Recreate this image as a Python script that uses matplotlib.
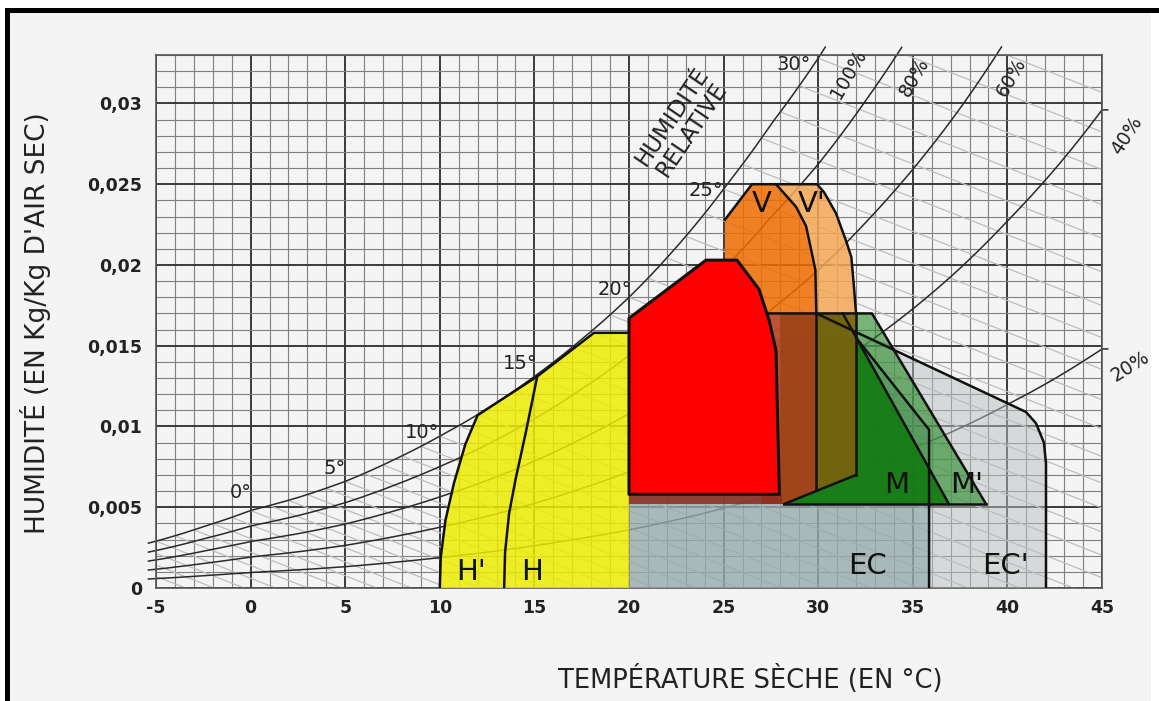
import numpy as np
import matplotlib
matplotlib.use('Agg')
import matplotlib.pyplot as plt
from matplotlib.patches import Polygon, Rectangle

plt.rcParams['axes.unicode_minus'] = False

# ---------------- data ----------------
# saturation (100 % RH) humidity curve, T in degC, w in kg/kg
sat_T = [-5, -2.5, 0, 2.5, 5, 7.5, 10, 12.5, 15, 17.5, 20, 22.5, 25, 27.5,
         30, 32.5, 35, 37.5, 40, 42.5, 45]
sat_w = [0.0029, 0.0038, 0.0048, 0.0056, 0.0066, 0.0079, 0.0094, 0.0111,
         0.0131, 0.0154, 0.0180, 0.0211, 0.0247, 0.0287, 0.0328, 0.0377,
         0.0432, 0.0495, 0.0568, 0.0648, 0.0740]
rh_levels = [1.0, 0.8, 0.6, 0.4, 0.2]
rh_labels = ['100%', '80%', '60%', '40%', '20%']
wb_temps = list(range(-14, 33))          # wet-bulb guide lines (degC)
wb_slope = 0.00046                       # kg/kg per degC along wet-bulb lines

x_ticks = [-5, 0, 5, 10, 15, 20, 25, 30, 35, 40, 45]
y_ticks = [0, 0.005, 0.01, 0.015, 0.02, 0.025, 0.03]
y_ticklabels = ['0', '0,005', '0,01', '0,015', '0,02', '0,025', '0,03']

# zones (T degC, w kg/kg)
zone_yellow = [(10.0, 0), (10.05, 0.0019), (10.3, 0.0042), (10.75, 0.0065),
               (11.35, 0.0089), (12.0, 0.0107), (15.15, 0.0131),
               (18.15, 0.0158), (20.0, 0.0158), (20.0, 0)]
line_h = [(13.4, 0), (13.45, 0.0022), (13.66, 0.0046), (14.0, 0.0067),
          (14.54, 0.0096), (15.15, 0.0131)]
zone_red = [(20.0, 0.0058), (20.0, 0.0167), (24.07, 0.0203), (25.71, 0.0203),
            (26.87, 0.0185), (27.4, 0.0166), (27.77, 0.0147), (27.95, 0.0058)]
zone_strip = [(20.0, 0.0052), (28.1, 0.0052), (28.1, 0.0058), (20.0, 0.0058)]
curve_v = [(27.77, 0.025), (28.83, 0.0236), (29.36, 0.0224), (29.67, 0.0207),
           (29.85, 0.0197), (29.9, 0.0170)]
zone_v = [(25.07, 0.0170), (25.07, 0.0228), (26.5, 0.025)] + curve_v
curve_vp = [(29.94, 0.025), (30.31, 0.0245), (30.94, 0.0232), (31.47, 0.0215),
            (31.75, 0.0205), (31.9, 0.0185), (32.0, 0.0170)]
zone_vp = [(27.77, 0.025)] + curve_vp + curve_v[::-1]
zone_brown = [(27.0, 0.0170), (29.9, 0.0170), (29.9, 0.00604), (28.2, 0.0052),
              (27.0, 0.0052)]
zone_olive = [(29.9, 0.0170), (32.0, 0.0170), (32.0, 0.0070), (29.9, 0.00604)]
zone_mp = [(28.0, 0.0170), (32.84, 0.0170), (38.87, 0.0052), (28.0, 0.0052)]
zone_m = [(28.0, 0.0170), (31.3, 0.0170), (36.91, 0.0052), (28.0, 0.0052)]
zone_ec = [(20.0, 0), (35.86, 0), (35.86, 0.0098), (32.0, 0.0155), (20.0, 0.0155)]
edge_ecp = [(29.9, 0.0170), (40.98, 0.0109), (41.51, 0.0102), (41.93, 0.0090),
            (42.04, 0.0077), (42.04, 0)]
zone_ecp = edge_ecp + [(20.0, 0), (20.0, 0.0170)]

zone_labels = ['H\'', 'H', 'V', 'V\'', 'M', 'M\'', 'EC', 'EC\'']
zone_label_T = [11.65, 14.87, 27.03, 29.67, 34.16, 37.86, 32.63, 39.87]
zone_label_w = [0.0010, 0.0010, 0.0238, 0.0238, 0.0064, 0.0064, 0.00136, 0.00136]

deg_labels = ['0°', '5°', '10°', '15°', '20°', '25°', '30°']
deg_T = [-0.5, 4.46, 9.06, 14.24, 19.26, 24.07, 28.72]
deg_w = [0.0059, 0.0074, 0.0096, 0.0139, 0.0185, 0.0246, 0.0324]

rh_lab_T = [31.63, 35.06, 40.19, 46.3, 46.5]
rh_lab_w = [0.0318, 0.0316, 0.0316, 0.0280, 0.0137]
rh_lab_rot = [60, 60, 60, 57, 32]

# ---------------- figure ----------------
W, H = 1159, 701
fig = plt.figure(figsize=(W / 100, H / 100), dpi=100, facecolor='white')


def fr(x0, y0, x1, y1, z, **kw):
    fig.patches.append(Rectangle((x0 / W, 1 - y1 / H), (x1 - x0) / W, (y1 - y0) / H,
                                 transform=fig.transFigure, figure=fig, zorder=z, **kw))


fr(10, 13, 1151, 701, -3, facecolor='#f4f4f4', edgecolor='none')
fr(5, 8, 1159, 13, -2, facecolor='black', edgecolor='none')
fr(5, 8, 10, 701, -2, facecolor='black', edgecolor='none')

ax = fig.add_axes([156 / W, 1 - 588 / H, (1102 - 156) / W, (588 - 55) / H])
ax.set_zorder(2)
ax.set_facecolor('#f4f4f4')
ax.set_xlim(-5, 45)
ax.set_ylim(0, 0.033)
ax.set_xticks(x_ticks)
ax.set_xticks(np.arange(-5, 46, 1), minor=True)
ax.set_yticks(y_ticks)
ax.set_yticks(np.arange(0, 0.0331, 0.001), minor=True)
ax.set_yticklabels(y_ticklabels)
ax.grid(which='minor', color='#808080', lw=0.8, zorder=0)
ax.grid(which='major', color='#3a3a3a', lw=1.4, zorder=0)
ax.set_axisbelow(True)
ax.tick_params(which='both', length=0)
ax.tick_params(axis='y', pad=10)
ax.tick_params(axis='x', pad=8)
for lab in ax.get_xticklabels() + ax.get_yticklabels():
    lab.set_fontsize(12.5)
    lab.set_fontweight('bold')
    lab.set_color('#222222')
for s in ax.spines.values():
    s.set_color('#555555')
    s.set_linewidth(1.2)

# saturation curve sampled (log-linear between read points)
lT = np.array(sat_T, float)
lW = np.log(np.array(sat_w, float))


def sat(T):
    T = np.asarray(T, float)
    out = np.interp(T, lT, lW)
    lo = T < lT[0]
    out[lo] = lW[0] + (T[lo] - lT[0]) * (lW[1] - lW[0]) / (lT[1] - lT[0])
    return np.exp(out)


# wet-bulb guide lines
for tw in wb_temps:
    w0 = float(sat([tw])[0])
    ax.plot([tw, tw + w0 / wb_slope], [w0, 0], color='#bdbdbd', lw=0.9, zorder=1)

# relative humidity curves
Td = np.linspace(-5.4, 45.3, 3000)
for rh in rh_levels:
    w = rh * sat(Td)
    m = (w <= 0.0335)
    ax.plot(Td[m], w[m], color='#2a2a2a', lw=1.1, zorder=2, clip_on=False)


def poly(pts, fc, alpha, z):
    ax.add_patch(Polygon(pts, closed=True, facecolor=fc, edgecolor='none',
                         alpha=alpha, zorder=z))


def edge(pts, lw=1.8, z=8):
    x, y = zip(*pts)
    ax.plot(x, y, color='#111111', lw=lw, zorder=z, solid_joinstyle='round')


poly(zone_ecp, '#bac0c0', 0.5, 3)
poly(zone_ec, '#8ca3a3', 0.6, 3.1)
poly(zone_mp, '#258925', 0.6, 3.2)
poly(zone_m, '#0e780d', 0.85, 3.3)
poly(zone_brown, '#b83c19', 0.85, 3.4)
poly(zone_olive, '#83600d', 0.85, 3.4)
poly(zone_yellow, '#eded04', 0.85, 3.5)
poly(zone_vp, '#f5a856', 0.85, 3.6)
poly(zone_v, '#f06c00', 0.85, 3.6)
poly(zone_strip, '#8c2a1e', 0.85, 3.7)

# outlines
edge(zone_yellow[:9])
edge(line_h)
edge(zone_v[1:])
edge([(27.77, 0.025), (29.94, 0.025)] + curve_vp)
edge([(27.0, 0.0170), (32.84, 0.0170), (38.87, 0.0052)])
edge([(28.2, 0.0052), (38.87, 0.0052)])
edge([(31.3, 0.0170), (36.91, 0.0052)])
edge([(29.9, 0.0170), (29.9, 0.00604)])
edge([(32.0, 0.0170), (32.0, 0.0070)])
edge([(28.2, 0.0052), (32.0, 0.0070)])
edge(edge_ecp)
edge([(35.86, 0), (35.86, 0.0098), (32.0, 0.0155)])

# comfort zone (opaque)
ax.add_patch(Polygon(zone_red, closed=True, facecolor='#ff0000', edgecolor='#111111',
                     lw=2.2, zorder=9, joinstyle='round'))

for t, x, y in zip(zone_labels, zone_label_T, zone_label_w):
    ax.text(x, y, t, fontsize=21, ha='center', va='center', color='#111111', zorder=12)
for t, x, y in zip(deg_labels, deg_T, deg_w):
    ax.text(x, y, t, fontsize=14, ha='center', va='center', color='#222222', zorder=12)
for t, x, y, r in zip(rh_labels, rh_lab_T, rh_lab_w, rh_lab_rot):
    ax.text(x, y, t, fontsize=13.5, ha='center', va='center', color='#222222',
            rotation=r, rotation_mode='anchor', zorder=12, clip_on=False)
ax.text(22.8, 0.0288, 'HUMIDITÉ\nRELATIVE', fontsize=16.5, ha='center', va='center',
        rotation=56, rotation_mode='anchor', multialignment='center',
        color='#222222', linespacing=1.05, zorder=12)

fig.text(36 / W, 1 - 323 / H, "HUMIDITÉ (EN Kg/Kg D'AIR SEC)", rotation=90,
         fontsize=19, ha='center', va='center', color='#222222')
fig.text(750 / W, 1 - 680 / H, 'TEMPÉRATURE SÈCHE (EN °C)',
         fontsize=18.5, ha='center', va='center', color='#222222')

fig.savefig('out.png', dpi=100, facecolor=fig.get_facecolor())
